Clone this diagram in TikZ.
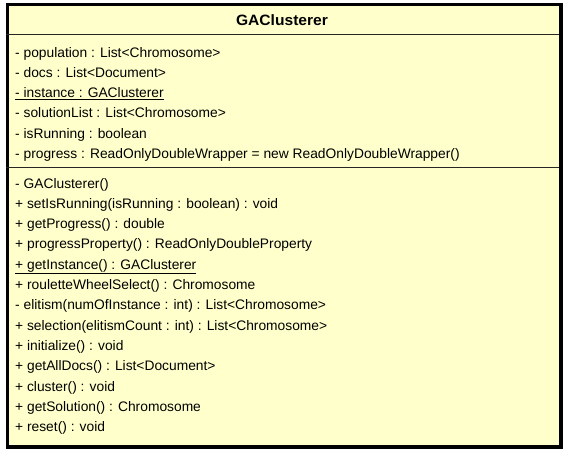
\documentclass[tikz,border=0pt]{standalone}
\usepackage{fontspec}
\setmainfont{Liberation Sans}
\newfontfamily\titlefont[FakeStretch=1.04]{Liberation Sans}
\definecolor{umlfill}{HTML}{FFFFCC}
\begin{document}
\begin{tikzpicture}[x=1pt,y=-1pt,
  member/.style={anchor=base west,inner sep=0pt,font=\fontsize{13.8}{16}\selectfont},
  title/.style={anchor=base,inner sep=0pt,font=\titlefont\fontsize{15}{16}\selectfont\bfseries},
  divider/.style={draw=black!85,line width=0.9pt}]
\useasboundingbox (0,0) rectangle (565,450);
\node[draw=black,line width=3.3pt,fill=umlfill,minimum width=553.9pt,minimum height=442.2pt,inner sep=0pt,anchor=north west] (box) at (5.5,3) {};
\node[title] (t) at (282,25) {GAClusterer};
\coordinate (d1l) at (5.5,34); \coordinate (d1r) at (559.4,34);
\coordinate (d2l) at (5.5,167.7); \coordinate (d2r) at (559.4,167.7);
\draw[divider] (d1l) -- (d1r);
\draw[divider] (d2l) -- (d2r);
\node[member] (a1) at (15,57.3) {- population : List<Chromosome>};
\node[member] (a2) at (15,77.5) {- docs : List<Document>};
\node[member] (a3) at (15,97.7) {\underline{- instance : GAClusterer}};
\node[member] (a4) at (15,117.9) {- solutionList : List<Chromosome>};
\node[member] (a5) at (15,138.1) {- isRunning : boolean};
\node[member] (a6) at (15,158.3) {- progress : ReadOnlyDoubleWrapper = new ReadOnlyDoubleWrapper()};
\node[member] (m1) at (15,188.0) {- GAClusterer()};
\node[member] (m2) at (15,208.3) {+ setIsRunning(isRunning : boolean) : void};
\node[member] (m3) at (15,228.6) {+ getProgress() : double};
\node[member] (m4) at (15,248.9) {+ progressProperty() : ReadOnlyDoubleProperty};
\node[member] (m5) at (15,269.2) {\underline{+ getInstance() : GAClusterer}};
\node[member] (m6) at (15,289.5) {+ rouletteWheelSelect() : Chromosome};
\node[member] (m7) at (15,309.8) {- elitism(numOfInstance : int) : List<Chromosome>};
\node[member] (m8) at (15,330.1) {+ selection(elitismCount : int) : List<Chromosome>};
\node[member] (m9) at (15,350.4) {+ initialize() : void};
\node[member] (m10) at (15,370.7) {+ getAllDocs() : List<Document>};
\node[member] (m11) at (15,391.0) {+ cluster() : void};
\node[member] (m12) at (15,411.3) {+ getSolution() : Chromosome};
\node[member] (m13) at (15,431.6) {+ reset() : void};
\end{tikzpicture}
\end{document}
